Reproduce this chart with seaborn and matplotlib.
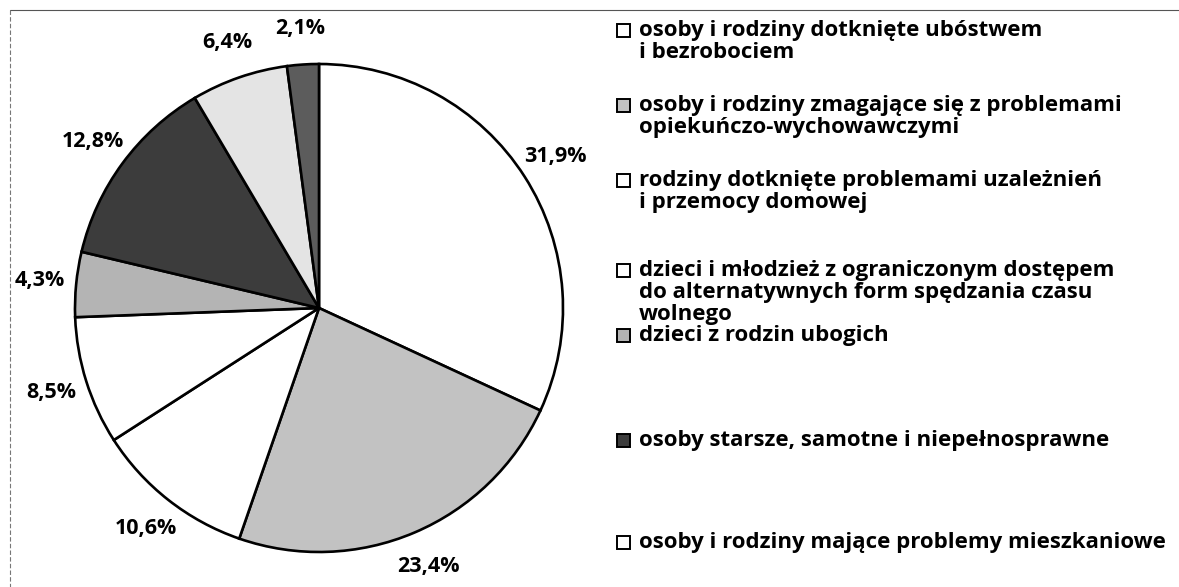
import matplotlib.pyplot as plt
import seaborn as sns
from matplotlib.lines import Line2D
from matplotlib.patches import Rectangle

# slice values, clockwise from the top
shares = [31.9, 23.4, 10.6, 8.5, 4.3, 12.8, 6.4, 2.1]
slice_colors = ['#ffffff', '#c2c2c2', '#ffffff', '#ffffff',
                '#b4b4b4', '#3c3c3c', '#e4e4e4', '#5c5c5c']

legend_labels = [
    'osoby i rodziny dotknięte ubóstwem\ni bezrobociem',
    'osoby i rodziny zmagające się z problemami\nopiekuńczo-wychowawczymi',
    'rodziny dotknięte problemami uzależnień\ni przemocy domowej',
    'dzieci i młodzież z ograniczonym dostępem\ndo alternatywnych form spędzania czasu\nwolnego',
    'dzieci z rodzin ubogich',
    'osoby starsze, samotne i niepełnosprawne',
    'osoby i rodziny mające problemy mieszkaniowe',
]
legend_colors = ['#ffffff', '#c2c2c2', '#ffffff', '#ffffff',
                 '#b4b4b4', '#3c3c3c', '#ffffff']

sns.set_theme(style='white')
plt.rcParams['font.family'] = ['Open Sans', 'DejaVu Sans']

W, H = 1179, 587
fig = plt.figure(figsize=(W / 100, H / 100), dpi=100)

# pie centre ~ (319, 308) px, radius ~ 244 px
cx, cy, r = 319, 308, 244
side = 2.5 * r
ax = fig.add_axes([(cx - side / 2) / W, (H - cy - side / 2) / H, side / W, side / H])

labels = [f'{v:.1f}%'.replace('.', ',') for v in shares]
wedges, texts = ax.pie(shares, labels=labels, colors=slice_colors, startangle=90,
                       counterclock=False, labeldistance=1.15,
                       wedgeprops=dict(edgecolor='black', linewidth=1.9),
                       textprops=dict(fontsize=15.5, fontweight='bold', color='black'))
for t in texts:
    t.set_ha('center')
    t.set_va('center')

# legend drawn as free text (uneven spacing in the original)
entry_y = [30, 105, 180, 270, 335, 440, 542]
for lab, col, y in zip(legend_labels, legend_colors, entry_y):
    fig.add_artist(Rectangle((617 / W, 1 - (y + 7) / H), 13 / W, 13 / H,
                             transform=fig.transFigure, facecolor=col,
                             edgecolor='black', linewidth=1.4))
    fig.text(639 / W, 1 - (y - 10) / H, lab, ha='left', va='top', fontsize=16,
             fontweight='bold', color='black', linespacing=1.06)

# thin frame remnants of the scan
fig.add_artist(Line2D([10 / W, 1.0], [1 - 10 / H, 1 - 10 / H], transform=fig.transFigure,
                      color='#555555', linewidth=0.8))
fig.add_artist(Line2D([10 / W, 10 / W], [1 - 10 / H, 0], transform=fig.transFigure,
                      color='#777777', linewidth=0.8, linestyle=(0, (4, 2))))

fig.savefig('out.png', dpi=100)
